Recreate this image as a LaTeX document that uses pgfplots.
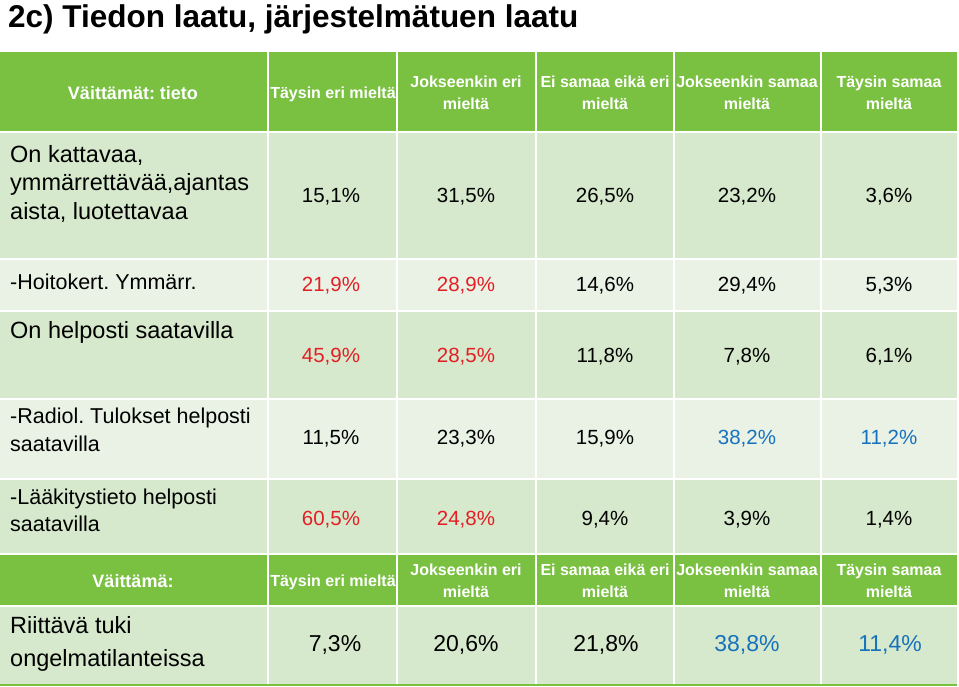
\documentclass[border=0pt]{standalone}
\usepackage{pgfplots}
\pgfplotsset{compat=1.18}
\usepackage{pgfplotstable}
\usepackage{fontspec}
\setmainfont{Liberation Sans}
\frenchspacing

\definecolor{hdr}{RGB}{122,193,66}
\definecolor{dark}{RGB}{214,233,204}
\definecolor{light}{RGB}{234,242,230}
\definecolor{tc0}{RGB}{0,0,0}
\definecolor{tc1}{RGB}{227,30,36}
\definecolor{tc2}{RGB}{22,114,190}

% x = column centre, y = baseline (px), v = percent, c = text colour
\pgfplotstableread{
x   y   v    c
331 202 15.1 0
466 202 31.5 0
605 202 26.5 0
747 202 23.2 0
889 202 3.6  0
331 291 21.9 1
466 291 28.9 1
605 291 14.6 0
747 291 29.4 0
889 291 5.3  0
331 362 45.9 1
466 362 28.5 1
605 362 11.8 0
747 362 7.8  0
889 362 6.1  0
331 444 11.5 0
466 444 23.3 0
605 444 15.9 0
747 444 38.2 2
889 444 11.2 2
331 525 60.5 1
466 525 24.8 1
605 525 9.4  0
747 525 3.9  0
889 525 1.4  0
}\tieto

\pgfplotstableread{
x   y   v    c
335 651 7.3  0
466 651 20.6 0
606 651 21.8 0
747 651 38.8 2
890 651 11.4 2
}\tuki

% one table row: y1 y2 colour
\newcommand\cells[3]{%
  \fill[#3] (axis cs:0,#1)   rectangle (axis cs:267,#2);
  \fill[#3] (axis cs:269,#1) rectangle (axis cs:396,#2);
  \fill[#3] (axis cs:398,#1) rectangle (axis cs:535,#2);
  \fill[#3] (axis cs:537,#1) rectangle (axis cs:673,#2);
  \fill[#3] (axis cs:675,#1) rectangle (axis cs:820,#2);
  \fill[#3] (axis cs:822,#1) rectangle (axis cs:957,#2);}

\newcommand\headers[2]{% baselines of line 1 and line 2
  \node[anchor=base] at (axis cs:333,{(#1+#2)/2}) {Täysin eri mieltä};
  \node[anchor=base] at (axis cs:466,#1) {Jokseenkin eri};
  \node[anchor=base] at (axis cs:466,#2) {mieltä};
  \node[anchor=base] at (axis cs:605,#1) {Ei samaa eikä eri};
  \node[anchor=base] at (axis cs:605,#2) {mieltä};
  \node[anchor=base] at (axis cs:747,#1) {Jokseenkin samaa};
  \node[anchor=base] at (axis cs:747,#2) {mieltä};
  \node[anchor=base] at (axis cs:889,#1) {Täysin samaa};
  \node[anchor=base] at (axis cs:889,#2) {mieltä};}

% one colour class of a value table
\newcommand\vals[3]{% table, class, font size
  \addplot[draw=none, point meta=\thisrow{v},
    x filter/.expression={\thisrow{c}==#2 ? x : nan},
    every node near coord/.append style={text=tc#2, font=\fontsize{#3}{#3}\selectfont}]
    table[x=x, y=y] {#1};}

\begin{document}
\begin{tikzpicture}
\begin{axis}[
    hide axis,
    scale only axis,
    width=959pt, height=686pt,
    xmin=0, xmax=959, ymin=0, ymax=686,
    y dir=reverse,
    clip=false,
    unbounded coords=discard,
    nodes near coords={\pgfmathprintnumber[fixed,fixed zerofill,precision=1,use comma,assume math mode=true]{\pgfplotspointmeta}\%},
    every node near coord/.append style={anchor=base, inner sep=0pt},
]
\path (axis cs:0,0) rectangle (axis cs:959,686);

\node[anchor=base west, inner sep=0pt, font=\bfseries\fontsize{31.5}{34}\selectfont]
  at (axis cs:8,27) {2c) Tiedon laatu, järjestelmätuen laatu};

\cells{52}{131}{hdr}
\cells{133}{258}{dark}
\cells{260}{310}{light}
\cells{312}{398}{dark}
\cells{400}{478}{light}
\cells{480}{553}{dark}
\cells{555}{605}{hdr}
\cells{607}{684}{dark}
\fill[hdr] (axis cs:0,684) rectangle (axis cs:957,686);

\begin{scope}[every node/.style={inner sep=0pt, text=white, font=\bfseries\fontsize{16}{19}\selectfont}]
  \node[anchor=base, font=\bfseries\fontsize{18}{21}\selectfont] at (axis cs:133,99) {Väittämät: tieto};
  \headers{87}{109}
  \node[anchor=base, font=\bfseries\fontsize{18}{21}\selectfont] at (axis cs:133,587) {Väittämä:};
  \headers{575}{597}
\end{scope}

\begin{scope}[every node/.style={inner sep=0pt, anchor=base west, font=\fontsize{21.5}{25}\selectfont}]
  \node[font=\fontsize{23.5}{27}\selectfont] at (axis cs:10,162) {On kattavaa,};
  \node[font=\fontsize{23.5}{27}\selectfont] at (axis cs:10,190) {ymmärrettävää,ajantas};
  \node[font=\fontsize{23.5}{27}\selectfont] at (axis cs:10,219) {aista, luotettavaa};
  \node at (axis cs:10,289) {-Hoitokert. Ymmärr.};
  \node[font=\fontsize{23.5}{27}\selectfont] at (axis cs:10,338) {On helposti saatavilla};
  \node at (axis cs:10,423) {-Radiol. Tulokset helposti};
  \node at (axis cs:10,451) {saatavilla};
  \node at (axis cs:10,504) {-Lääkitystieto helposti};
  \node at (axis cs:10,531) {saatavilla};
  \node[font=\fontsize{23.5}{27}\selectfont] at (axis cs:10,633) {Riittävä tuki};
  \node[font=\fontsize{23.5}{27}\selectfont] at (axis cs:10,666) {ongelmatilanteissa};
\end{scope}

\vals{\tieto}{0}{20.5}
\vals{\tieto}{1}{20.5}
\vals{\tieto}{2}{20.5}
\vals{\tuki}{0}{23}
\vals{\tuki}{2}{23}
\end{axis}
\end{tikzpicture}
\end{document}
